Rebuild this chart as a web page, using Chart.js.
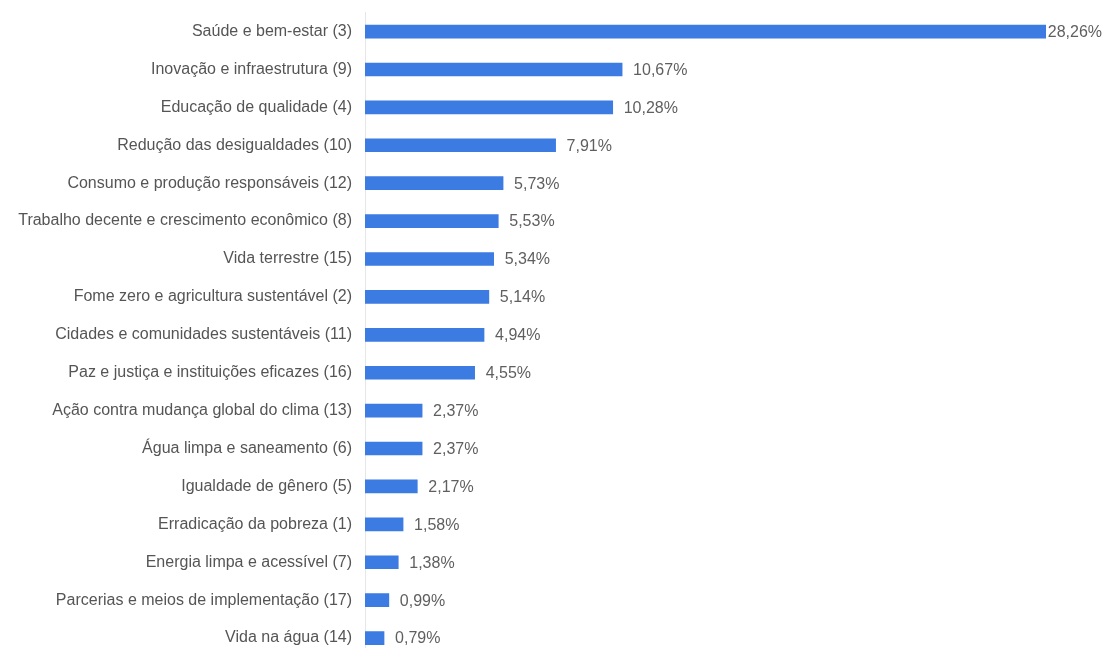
<!DOCTYPE html>
<html>
<head>
<meta charset="utf-8">
<script src="https://cdn.jsdelivr.net/npm/chart.js@4"></script>
<style>
  html, body { margin: 0; padding: 0; background: #ffffff; overflow: hidden; }
  #c { display: block; margin-top: -2px; }
</style>
</head>
<body>
<canvas id="c" width="1102" height="680" style="width:1102px;height:680px"></canvas>
<script>
const categories = [
  "Saúde e bem-estar (3)",
  "Inovação e infraestrutura (9)",
  "Educação de qualidade (4)",
  "Redução das desigualdades (10)",
  "Consumo e produção responsáveis (12)",
  "Trabalho decente e crescimento econômico (8)",
  "Vida terrestre (15)",
  "Fome zero e agricultura sustentável (2)",
  "Cidades e comunidades sustentáveis (11)",
  "Paz e justiça e instituições eficazes (16)",
  "Ação contra mudança global do clima (13)",
  "Água limpa e saneamento (6)",
  "Igualdade de gênero (5)",
  "Erradicação da pobreza (1)",
  "Energia limpa e acessível (7)",
  "Parcerias e meios de implementação (17)",
  "Vida na água (14)"
];
const values = [28.26, 10.67, 10.28, 7.91, 5.73, 5.53, 5.34, 5.14, 4.94, 4.55, 2.37, 2.37, 2.17, 1.58, 1.38, 0.99, 0.79];

const FONT = '"Liberation Sans", Arial, sans-serif';
const fmt = v => v.toFixed(2).replace('.', ',') + '%';

const valueLabels = {
  id: 'valueLabels',
  afterDatasetsDraw(chart) {
    const ctx = chart.ctx;
    const meta = chart.getDatasetMeta(0);
    ctx.save();
    ctx.font = '16px ' + FONT;
    ctx.fillStyle = '#5f5f5f';
    ctx.textAlign = 'left';
    ctx.textBaseline = 'middle';
    meta.data.forEach((bar, i) => {
      const txt = fmt(values[i]);
      const w = ctx.measureText(txt).width;
      let x = bar.x + 11;
      x = Math.min(x, chart.width - w);
      ctx.fillText(txt, x, bar.y + 1);
    });
    ctx.restore();
  }
};

new Chart(document.getElementById('c'), {
  type: 'bar',
  data: {
    labels: categories,
    datasets: [{
      data: values,
      backgroundColor: '#3b7be2',
      borderWidth: 0,
      barThickness: 13
    }]
  },
  options: {
    indexAxis: 'y',
    responsive: false,
    maintainAspectRatio: false,
    animation: false,
    layout: { padding: { top: 1, bottom: 21, left: 0, right: 56 } },
    plugins: {
      legend: { display: false },
      tooltip: { enabled: false }
    },
    scales: {
      x: {
        display: false,
        min: 0,
        max: 28.26
      },
      y: {
        afterFit(scale) { scale.width = 365; },
        grid: { display: false },
        border: { display: true, color: '#e6e6e6', width: 1 },
        ticks: {
          padding: 5,
          color: '#555555',
          font: { family: FONT, size: 16 },
          autoSkip: false
        }
      }
    }
  },
  plugins: [valueLabels]
});
</script>
</body>
</html>
